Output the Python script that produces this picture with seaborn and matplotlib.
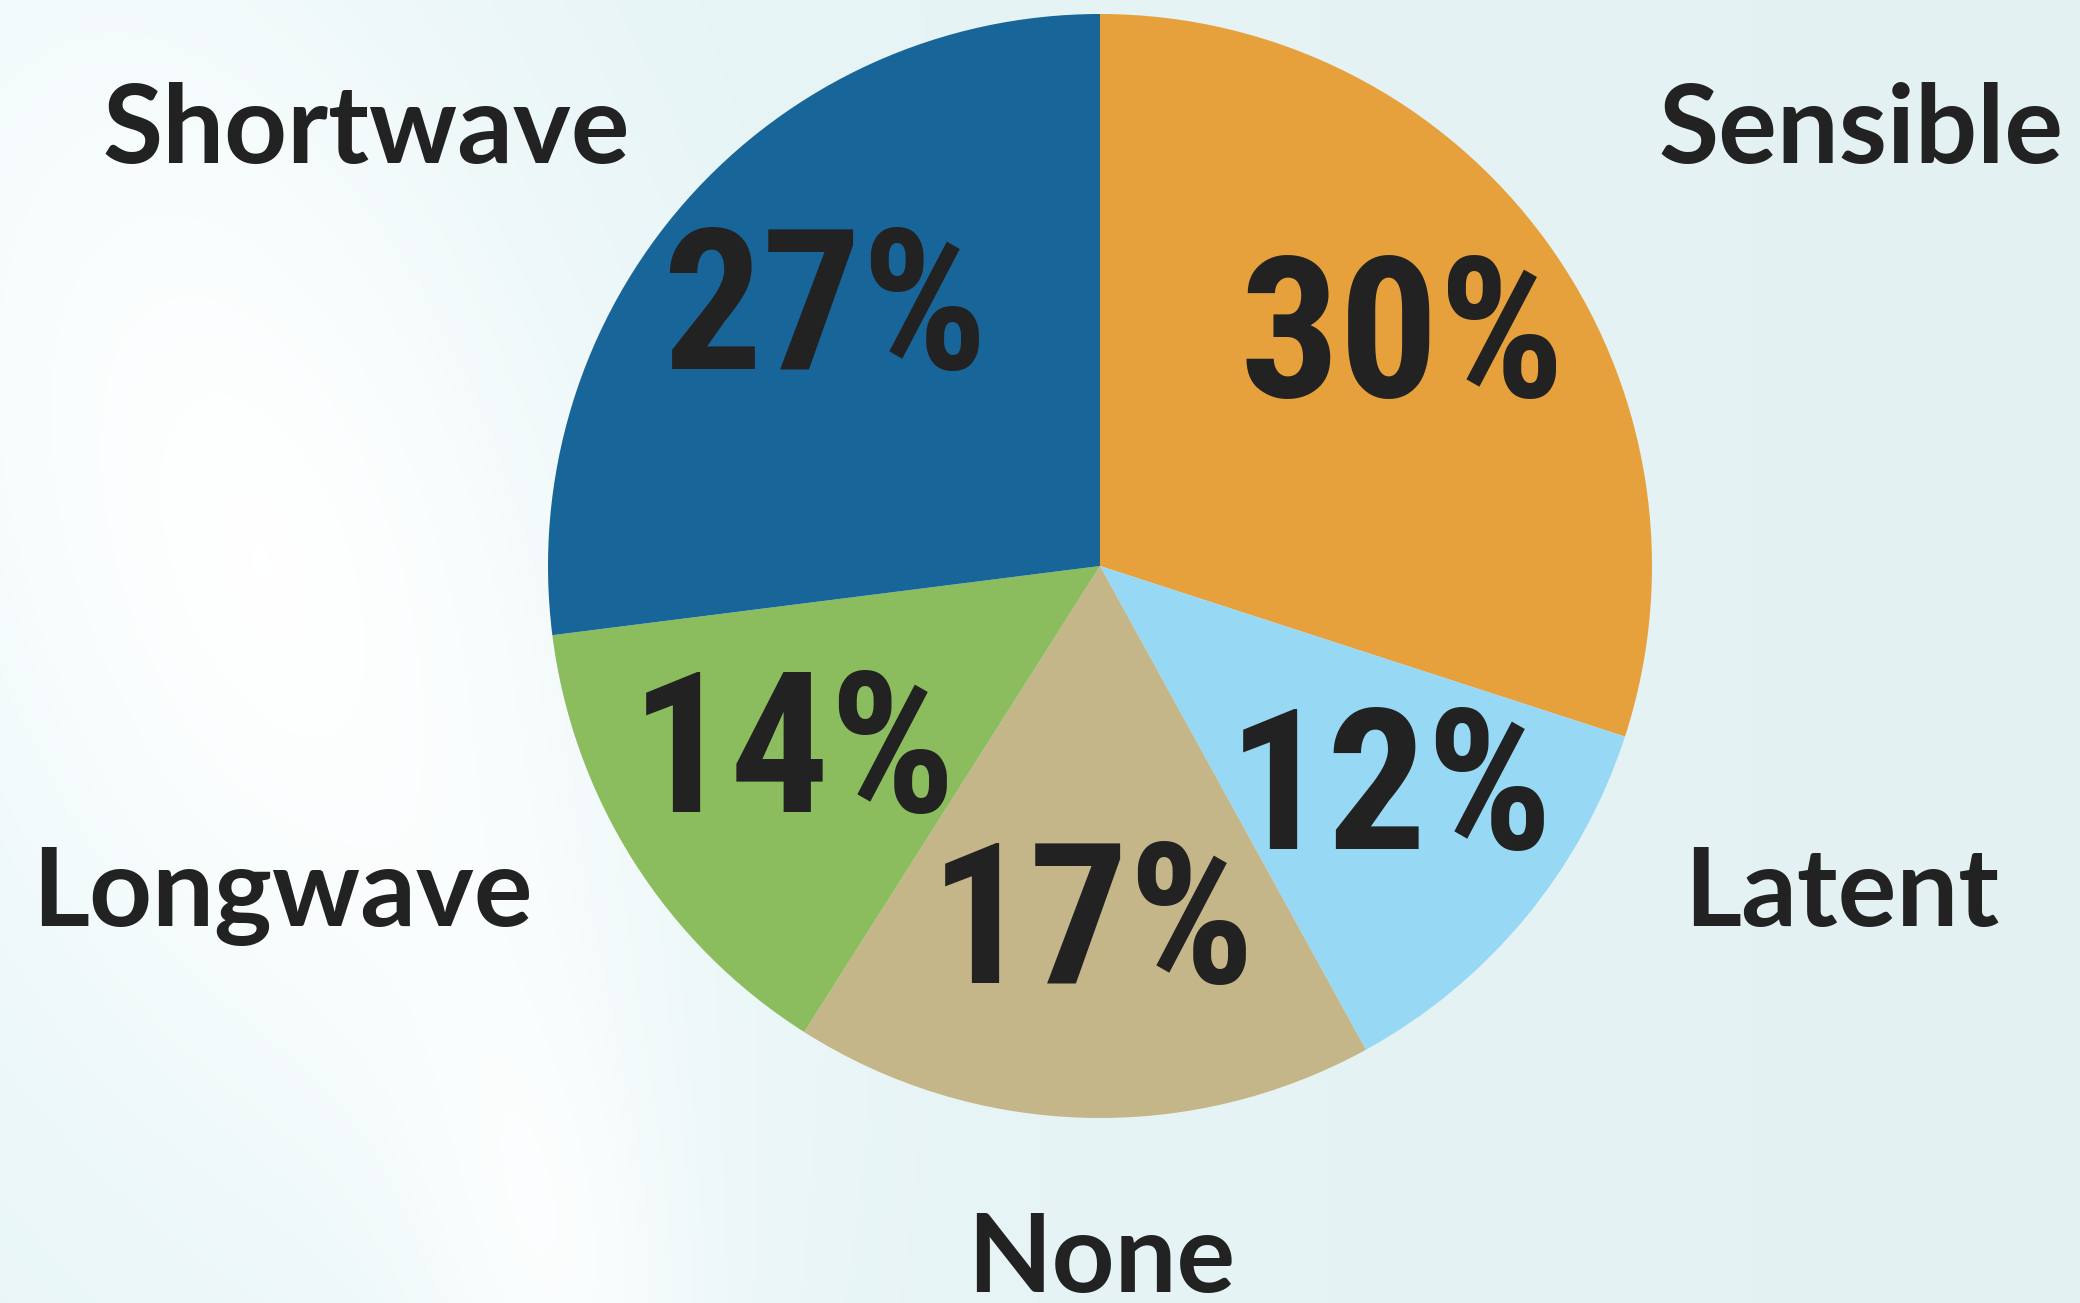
import numpy as np
import matplotlib
matplotlib.use("Agg")
import matplotlib.pyplot as plt
from matplotlib import font_manager
import seaborn as sns

# Energy-flux share by category (percent), clockwise from 12 o'clock
categories = ["Sensible", "Latent", "None", "Longwave", "Shortwave"]
shares = [30, 12, 17, 14, 27]
slice_colors = ["#E6A13D", "#97D9F4", "#C5B68A", "#8BBD5F", "#186699"]

W, H = 2080, 1303
sns.set_theme(style="white")

installed = {f.name for f in font_manager.fontManager.ttflist}


def first_font(options):
    for name in options:
        if name in installed:
            return name
    return "DejaVu Sans"


label_font = first_font(["Lato", "Open Sans", "DejaVu Sans"])
pct_font = first_font(["Roboto Condensed", "Open Sans Condensed", "Liberation Sans Narrow",
                       "DejaVu Sans Condensed", "DejaVu Sans"])
plt.rcParams["font.family"] = [label_font, "DejaVu Sans"]

fig = plt.figure(figsize=(W / 100, H / 100), dpi=100)
ax = fig.add_axes([0, 0, 1, 1])

# soft pale-cyan backdrop with whitish streaks on the left
yy, xx = np.mgrid[0:H, 0:W]
base = np.array([0.910, 0.965, 0.972])
right = np.array([0.892, 0.946, 0.952])
t = (xx / W)[..., None]
bg = base * (1 - t) + right * t
glow = np.exp(-(((xx - 120 - 0.25 * yy) / 380.0) ** 2 + ((yy - 560) / 700.0) ** 2))
glow2 = 0.55 * np.exp(-(((xx - 560 - 0.15 * (yy - 1300)) / 140.0) ** 2 + ((yy - 1300) / 330.0) ** 2))
g = np.clip(glow + glow2, 0, 1)[..., None]
bg = bg * (1 - g) + g * np.array([0.997, 1.0, 1.0])
ax.imshow(bg, extent=[0, W, 0, H], origin="upper", zorder=0, interpolation="bilinear")

cx, cy, radius = 1100, H - 566, 552
ax.pie(shares, colors=slice_colors, startangle=90, counterclock=False,
       center=(cx, cy), radius=radius, frame=True,
       wedgeprops=dict(linewidth=0, zorder=2))

ax.set_xlim(0, W)
ax.set_ylim(0, H)
ax.set_aspect("equal", adjustable="box")
ax.axis("off")

ink = "#222222"

# percentage labels inside each wedge (centre x, baseline y in pixels from top)
pct_pos = [(1402, 397), (1391, 849), (1093, 983), (794, 812), (825, 369)]
for val, (x, yb) in zip(shares, pct_pos):
    ax.text(x, H - yb, f"{val}%", ha="center", va="baseline",
            fontsize=142, fontweight="bold", family=pct_font, color=ink, zorder=3)

# category names around the pie (centre x, baseline y in pixels from top)
name_pos = [(1861, 163), (1842, 926), (1101, 1292), (282, 926), (366, 163)]
for name, (x, yb) in zip(categories, name_pos):
    ax.text(x, H - yb, name, ha="center", va="baseline",
            fontsize=79, fontweight="bold", color=ink, zorder=3)

fig.savefig("out.png", dpi=100)
